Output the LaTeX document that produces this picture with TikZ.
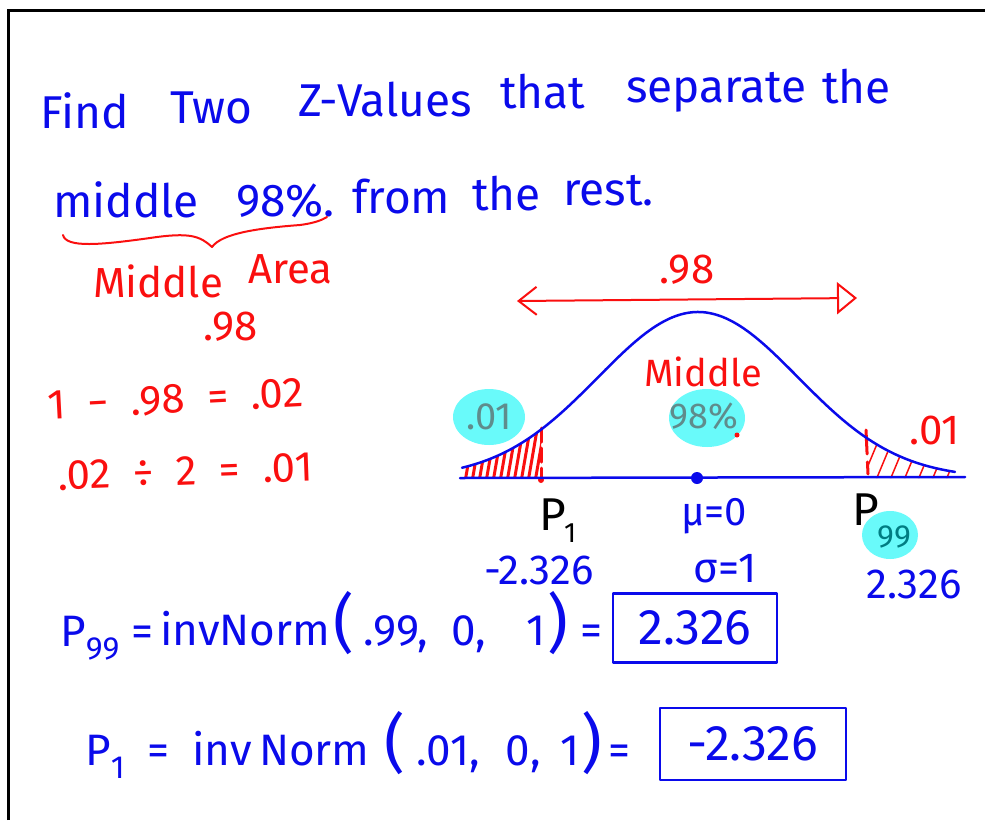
\documentclass[tikz,border=0pt]{standalone}
\usepackage{fontspec}
\setmainfont{Fira Sans}
\usepackage{tikz}
\usetikzlibrary{arrows.meta, positioning}
\definecolor{penblue}{RGB}{10,10,235}
\definecolor{penred}{RGB}{250,15,15}
\definecolor{marker}{RGB}{105,250,250}
\definecolor{markgray}{RGB}{95,140,140}
\definecolor{markteal}{RGB}{0,125,130}
\newcommand{\penfont}[1]{\fontsize{#1}{#1}\selectfont}
\newcommand{\bigparen}[1]{{\penfont{64}#1}}

\begin{document}
\begin{tikzpicture}[
    x=1pt, y=-1pt,
    bluepen/.style={draw=penblue, line width=2.5pt, line cap=round, line join=round},
    redpen/.style={draw=penred, line width=2pt, line cap=round, line join=round},
    title/.style={text=penblue, inner sep=0pt, anchor=base west, font=\penfont{46}},
    note/.style={text=penred, inner sep=0pt, anchor=base west, font=\penfont{42}},
    label/.style={inner sep=0pt, font=\penfont{42}},
    calc/.style={text=penblue, inner sep=0pt, anchor=base west, font=\penfont{44}},
    answer/.style={bluepen, inner sep=0pt, font=\penfont{50}, text=penblue}
]
    \useasboundingbox (0,0) rectangle (985,820);
    \draw[line width=3pt] (8,820) -- (8,10) -- (985,10);

    % question
    \node[title] (wfind) at (40,128) {Find};
    \node[title] (wtwo) at (170,123) {Two};
    \node[title] (wz) at (298,116) {Z-Values};
    \node[title] (wthat) at (500,108) {that};
    \node[title] (wsep) at (626,102) {separate};
    \node[title] (wthe) at (822,103) {the};
    \node[title] (wmiddle) at (53,217) {middle};
    \node[title] (wpct) at (236,216) {98\%.};
    \node[title] (wfrom) at (352,213) {from};
    \node[title] (wthe2) at (472,210) {the};
    \node[title] (wrest) at (563,205) {rest.};

    % brace and side notes
    \draw[redpen] (63,235) .. controls (66,248) and (100,245) .. (150,238)
        .. controls (190,232) and (200,236) .. (212,247)
        .. controls (222,233) and (260,228) .. (300,225)
        .. controls (315,223) and (322,220) .. (327,217);
    \node[note] (nmid) at (93,297) {Middle};
    \node[note] (narea) at (248,283) {Area};
    \node[note] (n98) at (203,340) {.98};
    \node[note, rotate=3] (nsub) at (48,420) {1\ \ −\ \ .98\ \ =\ \ .02};
    \node[note, rotate=2] (ndiv) at (58,490) {.02\ \ ÷\ \ 2\ \ =\ \ .01};

    % tail shading
    \begin{scope}
        \clip plot[domain=462:541, samples=30] (\x, {478-166*exp(-0.5*((\x-698)/100)*((\x-698)/100))}) -- (541,478) -- (462,478) -- cycle;
        \foreach \x in {458,465,...,545}
            \draw[redpen, line width=3pt] (\x,482) -- (\x+9,430);
    \end{scope}
    \begin{scope}
        \clip plot[domain=867:955, samples=30] (\x, {478-166*exp(-0.5*((\x-698)/100)*((\x-698)/100))}) -- (955,478) -- (867,478) -- cycle;
        \foreach \x in {862,876,...,962}
            \draw[redpen, line width=1.5pt] (\x,480) -- (\x+20,432);
    \end{scope}
    \draw[redpen, line width=3pt, dash pattern=on 14pt off 6pt] (541,428) -- (541,478);
    \draw[redpen, line width=3pt, dash pattern=on 24pt off 8pt] (866,430) -- (868,474);
    \fill[penred] (541,480) circle (3);

    % curve and axis
    \draw[bluepen] (460,478) -- (965,477);
    \draw[bluepen] plot[domain=462:955, samples=90, smooth] (\x, {478-166*exp(-0.5*((\x-698)/100)*((\x-698)/100))});
    \fill[penblue] (697,478) circle (6);

    % .98 arrow
    \coordinate (arrL) at (517,301);
    \coordinate (arrR) at (857,298);
    \draw[redpen, {Straight Barb[length=18pt,width=28pt]}-{Triangle[open,length=20pt,width=32pt]}] (arrL) -- (arrR);
    \node[label, text=penred] (a98) at (687,270) {.98};

    % highlights
    \fill[marker] (489,417) ellipse [x radius=36, y radius=28];
    \fill[marker] (707,418) ellipse [x radius=38, y radius=29];
    \fill[marker] (890,535) ellipse [x radius=28, y radius=24];
    \node[label, text=markgray, font=\penfont{38}] (lt01) at (489,417) {.01};
    \node[label, text=markgray, font=\penfont{36}] (m98) at (704,416) {98\%};
    \fill[penred] (737,435) circle (2.5);
    \node[label, text=penred, font=\penfont{38}] (mtxt) at (703,372) {Middle};
    \node[label, text=penred] (rt01) at (935,430) {.01};

    % axis labels
    \node[inner sep=0pt, anchor=base west, font=\penfont{46}] (p1) at (539,530) {P};
    \node[inner sep=0pt, anchor=base west, font=\penfont{28}] (p1sub) at (564,542) {1};
    \node[label, text=penblue, font=\penfont{40}] (mu) at (714,516) {μ=0};
    \node[inner sep=0pt, anchor=base west, font=\penfont{46}] (p99) at (852,525) {P};
    \node[label, text=markteal, font=\penfont{32}] (p99sub) at (894,537) {99};
    \node[label, text=penblue] (lz) at (539,570) {-2.326};
    \node[label, text=penblue] (sig) at (725,569) {σ=1};
    \node[label, text=penblue] (rz) at (914,584) {2.326};

    % invNorm lines
    \node[calc] (c1p) at (60,646) {P\raisebox{-0.3em}{\penfont{32}99}\ =};
    \node[calc] (c1inv) at (160,645) {invNorm};
    \node[calc] (c1args) at (333,645) {\bigparen{(}\hspace{10pt}.99,\hspace{24pt}0,\hspace{40pt}1\hspace{2pt}\bigparen{)}\hspace{12pt}=};
    \node[answer, minimum width=164pt, minimum height=69pt] (box1) at (695,628) {2.326};
    \node[calc] (c2p) at (85,765) {P\raisebox{-0.3em}{\penfont{32}1}\ \ =};
    \node[calc] (c2inv) at (192,765) {inv\,Norm};
    \node[calc] (c2args) at (384,765) {\bigparen{(}\hspace{12pt}.01,\hspace{26pt}0,\hspace{20pt}1\hspace{2pt}\bigparen{)}\hspace{6pt}=};
    \node[answer, minimum width=186pt, minimum height=72pt] (box2) at (753,744) {-2.326};
\end{tikzpicture}
\end{document}
